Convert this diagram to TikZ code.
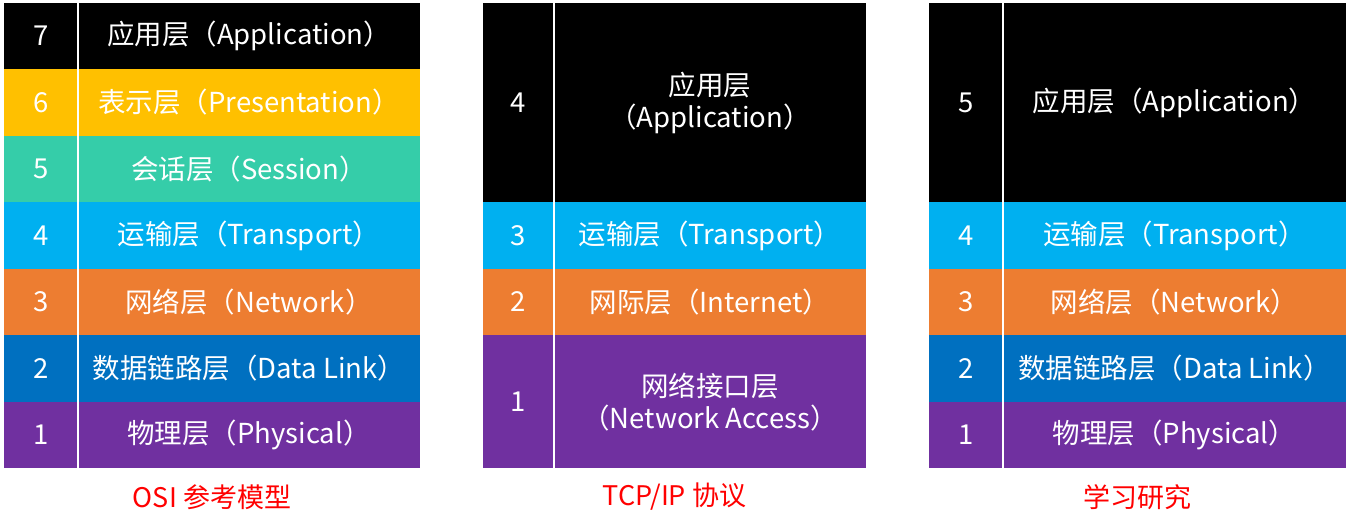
\documentclass[tikz,border=0pt]{standalone}
\usepackage{fontspec}
\setmainfont{Noto Sans CJK SC}
\definecolor{cBlack}{HTML}{000000}
\definecolor{cYellow}{HTML}{FFC000}
\definecolor{cTeal}{HTML}{35CDA9}
\definecolor{cSky}{HTML}{00B0F0}
\definecolor{cOrange}{HTML}{ED7D31}
\definecolor{cBlue}{HTML}{0070C0}
\definecolor{cPurple}{HTML}{7030A0}
\definecolor{cRed}{HTML}{FF0000}
\tikzset{
  cell/.style={inner sep=0pt, outer sep=0pt, text=white, align=center,
    font=\fontsize{27.5}{32}\selectfont},
  divider/.style={draw=white, line width=1.2pt},
  caption/.style={inner sep=0pt, text=cRed, font=\fontsize{27}{32}\selectfont}
}
\begin{document}
\begin{tikzpicture}[x=1pt,y=-1pt]
\useasboundingbox (0,0) rectangle (1349,522);
% ---------- OSI ----------
\node[cell, fill=cBlack,  minimum width=74pt, minimum height=66.5pt] (o7n) at (41,36) {7};
\node[cell, fill=cBlack,  minimum width=342pt, minimum height=66.5pt] (o7) at (249,36) {应用层（Application）};
\node[cell, fill=cYellow, minimum width=74pt, minimum height=66.5pt] (o6n) at (41,102.5) {6};
\node[cell, fill=cYellow, minimum width=342pt, minimum height=66.5pt] (o6) at (249,102.5) {表示层（Presentation）};
\node[cell, fill=cTeal,   minimum width=74pt, minimum height=66.5pt] (o5n) at (41,169) {5};
\node[cell, fill=cTeal,   minimum width=342pt, minimum height=66.5pt] (o5) at (249,169) {会话层（Session）};
\node[cell, fill=cSky,    minimum width=74pt, minimum height=66.5pt] (o4n) at (41,235.5) {4};
\node[cell, fill=cSky,    minimum width=342pt, minimum height=66.5pt] (o4) at (249,235.5) {运输层（Transport）};
\node[cell, fill=cOrange, minimum width=74pt, minimum height=66.5pt] (o3n) at (41,302) {3};
\node[cell, fill=cOrange, minimum width=342pt, minimum height=66.5pt] (o3) at (249,302) {网络层（Network）};
\node[cell, fill=cBlue,   minimum width=74pt, minimum height=66.5pt] (o2n) at (41,368.5) {2};
\node[cell, fill=cBlue,   minimum width=342pt, minimum height=66.5pt] (o2) at (249,368.5) {数据链路层（Data Link）};
\node[cell, fill=cPurple, minimum width=74pt, minimum height=66.5pt] (o1n) at (41,435) {1};
\node[cell, fill=cPurple, minimum width=342pt, minimum height=66.5pt] (o1) at (249,435) {物理层（Physical）};
\draw[divider] (o7n.north east) -- (o1n.south east);
\node[caption] (capo) at (212,497) {OSI 参考模型};
% ---------- TCP/IP ----------
\node[cell, fill=cBlack,  minimum width=71pt, minimum height=199pt] (t4n) at (518.5,102.5) {4};
\node[cell, fill=cBlack,  minimum width=312pt, minimum height=199pt] (t4) at (710,102.5) {应用层\\（Application）};
\node[cell, fill=cSky,    minimum width=71pt, minimum height=66.5pt] (t3n) at (518.5,235.5) {3};
\node[cell, fill=cSky,    minimum width=312pt, minimum height=66.5pt] (t3) at (710,235.5) {运输层（Transport）};
\node[cell, fill=cOrange, minimum width=71pt, minimum height=66.5pt] (t2n) at (518.5,302) {2};
\node[cell, fill=cOrange, minimum width=312pt, minimum height=66.5pt] (t2) at (710,302) {网际层（Internet）};
\node[cell, fill=cPurple, minimum width=71pt, minimum height=133pt] (t1n) at (518.5,401.75) {1};
\node[cell, fill=cPurple, minimum width=312pt, minimum height=133pt] (t1) at (710,401.75) {网络接口层\\（Network Access）};
\draw[divider] (t4n.north east) -- (t1n.south east);
\node[caption] (capt) at (674.5,497) {TCP/IP 协议};
% ---------- Study ----------
\node[cell, fill=cBlack,  minimum width=74pt, minimum height=199pt] (s5n) at (966,102.5) {5};
\node[cell, fill=cBlack,  minimum width=343pt, minimum height=199pt] (s5) at (1174.5,102.5) {应用层（Application）};
\node[cell, fill=cSky,    minimum width=74pt, minimum height=66.5pt] (s4n) at (966,235.5) {4};
\node[cell, fill=cSky,    minimum width=343pt, minimum height=66.5pt] (s4) at (1174.5,235.5) {运输层（Transport）};
\node[cell, fill=cOrange, minimum width=74pt, minimum height=66.5pt] (s3n) at (966,302) {3};
\node[cell, fill=cOrange, minimum width=343pt, minimum height=66.5pt] (s3) at (1174.5,302) {网络层（Network）};
\node[cell, fill=cBlue,   minimum width=74pt, minimum height=66.5pt] (s2n) at (966,368.5) {2};
\node[cell, fill=cBlue,   minimum width=343pt, minimum height=66.5pt] (s2) at (1174.5,368.5) {数据链路层（Data Link）};
\node[cell, fill=cPurple, minimum width=74pt, minimum height=66.5pt] (s1n) at (966,435) {1};
\node[cell, fill=cPurple, minimum width=343pt, minimum height=66.5pt] (s1) at (1174.5,435) {物理层（Physical）};
\draw[divider] (s5n.north east) -- (s1n.south east);
\node[caption] (caps) at (1137.5,497) {学习研究};
\end{tikzpicture}
\end{document}
